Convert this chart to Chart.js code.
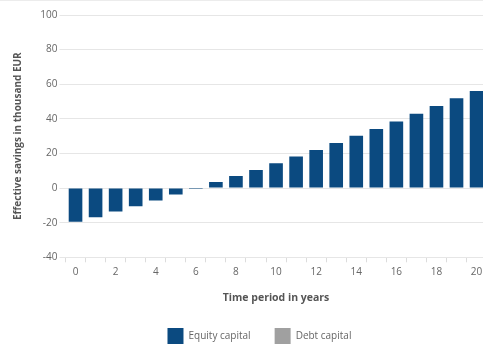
<!DOCTYPE html>
<html><head><meta charset="utf-8">
<script src="https://cdn.jsdelivr.net/npm/chart.js@4/dist/chart.umd.min.js"></script>
<style>
html,body{margin:0;padding:0;background:#fff;overflow:hidden;width:483px;height:345px}
#wrap{position:absolute;left:0;top:0;width:490px;height:345px}
#topline{position:absolute;left:0;top:0;width:483px;height:1px;background:#ececec;z-index:2}
</style></head>
<body>
<div id="topline"></div>
<div id="wrap"><canvas id="c" width="490" height="345"></canvas></div>
<script>
const years = ['0','1','2','3','4','5','6','7','8','9','10','11','12','13','14','15','16','17','18','19','20'];
const equityCapital = [-19.5,-16.9,-13.6,-10.5,-7.2,-3.7,-0.5,3.5,7.0,10.5,14.4,18.3,22.0,26.0,30.3,34.2,38.5,43.0,47.4,51.9,56.1];
const debtCapital = [null,null,null,null,null,null,null,null,null,null,null,null,null,null,null,null,null,null,null,null,null];
const yMin = -40, yMax = 100, yStep = 20;
const seriesNames = ['Equity capital','Debt capital'];
const axisTitles = {x:'Time period in years', y:'Effective savings in thousand EUR'};

const FONT = 'Open Sans';
const legendShift = {
  id: 'legendShift',
  afterLayout(chart) {
    const lg = chart.legend;
    if (lg) { lg.left -= 16.6; lg.right -= 16.6; }
  }
};
new Chart(document.getElementById('c'), {
  type: 'bar',
  data: {
    labels: years,
    datasets: [
      {label: seriesNames[0], data: equityCapital, backgroundColor: '#0b4a80', borderWidth: 0,
       categoryPercentage: 1, barPercentage: 0.68, skipNull: true},
      {label: seriesNames[1], data: debtCapital, backgroundColor: '#a0a0a0', borderWidth: 0,
       categoryPercentage: 1, barPercentage: 0.68, skipNull: true}
    ]
  },
  plugins: [legendShift],
  options: {
    responsive: false,
    animation: false,
    layout: {padding: {top: 15, right: 3.4, left: 0, bottom: 0}},
    plugins: {
      tooltip: {enabled: false},
      legend: {
        position: 'bottom',
        fullSize: false,
        maxHeight: 41,
        labels: {boxWidth: 16, boxHeight: 16, padding: 24, color: '#666',
                 font: {family: FONT, size: 10}}
      }
    },
    scales: {
      x: {
        grid: {display: true, drawOnChartArea: false, offset: true, tickLength: 5, color: '#dcdcdc'},
        border: {display: false},
        ticks: {autoSkip: false, maxRotation: 0, padding: 4, color: '#666',
                font: {family: FONT, size: 10},
                callback: function(v, i) { return i % 2 === 0 ? years[i] : ''; }},
        title: {display: true, text: axisTitles.x, color: '#555',
                font: {family: FONT, size: 10.5, weight: 'bold'}, padding: {top: 14, bottom: 0}},
        afterFit: function(s) { s.height = 46.7; }
      },
      y: {
        min: yMin, max: yMax,
        grid: {color: '#e6e6e6', tickLength: 6},
        border: {display: false},
        ticks: {stepSize: yStep, padding: 2, color: '#666', font: {family: FONT, size: 10}},
        title: {display: true, text: axisTitles.y, color: '#555',
                font: {family: FONT, size: 10, weight: 'bold'}, padding: {top: 12, bottom: 0}},
        afterFit: function(s) { s.width = 65.5; }
      }
    }
  }
});
</script>
</body></html>
